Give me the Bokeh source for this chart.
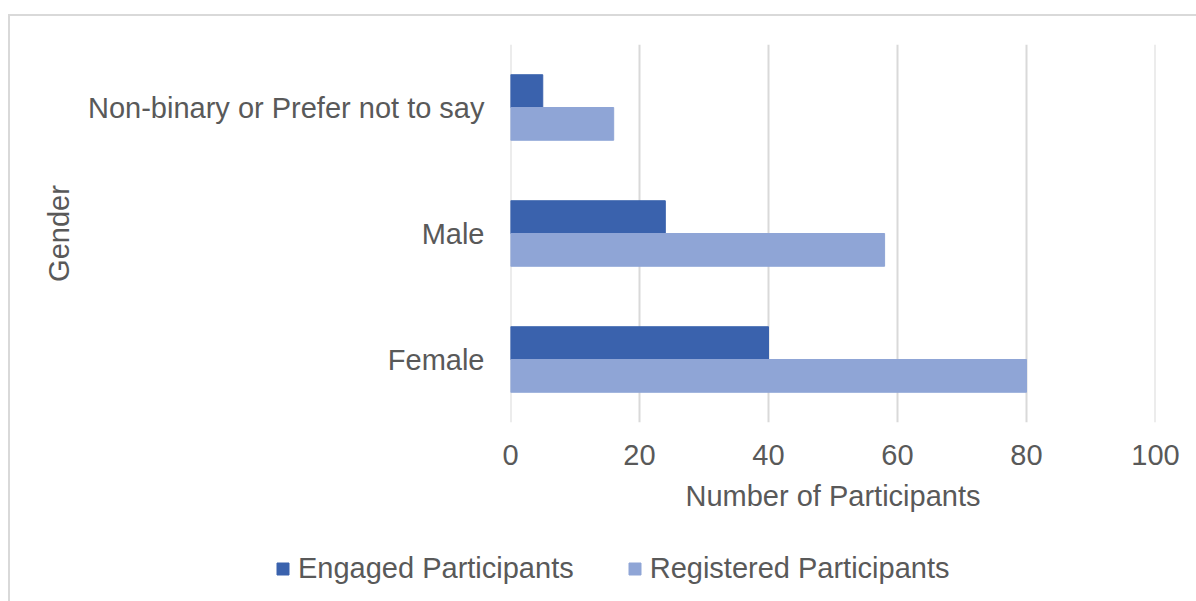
from bokeh.plotting import figure
from bokeh.models import ColumnDataSource, FactorRange, Legend, LegendItem, Span
from bokeh.transform import dodge
from bokeh.embed import file_html
from bokeh.resources import INLINE

categories = ["Female", "Male", "Non-binary or Prefer not to say"]
engaged = [40, 24, 5]
registered = [80, 58, 16]
x_ticks = [0, 20, 40, 60, 80, 100]
series_names = ["Engaged Participants", "Registered Participants"]

FONT = "Liberation Sans"
TXT = "#595959"
C_ENG = "#3A62AD"
C_REG = "#8FA5D6"
GRID = "#D9D9D9"
FS = "29px"
NAN = float("nan")

src = ColumnDataSource(dict(cat=categories, eng=engaged, reg=registered))

p = figure(width=1188, height=516, y_range=FactorRange(factors=categories),
           x_range=(x_ticks[0], x_ticks[-1]), output_backend="svg", toolbar_location=None,
           min_border_left=500, min_border_right=43, min_border_top=28,
           min_border_bottom=110)
p.margin = (14, 0, 0, 8)
p.styles = {"border-left": f"2px solid {GRID}", "border-top": f"2px solid {GRID}",
            "box-sizing": "border-box"}
p.outline_line_color = None
p.background_fill_color = "white"
p.border_fill_color = "white"

for t in (x_ticks[0], x_ticks[-1]):
    p.add_layout(Span(location=t, dimension="height", line_color=GRID, line_width=2,
                      level="underlay"))

p.hbar(y=dodge("cat", 0.13, range=p.y_range), right="eng", left=0, height=0.26,
       source=src, color=C_ENG)
p.hbar(y=dodge("cat", -0.13, range=p.y_range), right="reg", left=0, height=0.26,
       source=src, color=C_REG)

p.xaxis.ticker = x_ticks
p.xaxis.axis_line_color = None
p.xaxis.major_tick_line_color = None
p.xaxis.minor_tick_line_color = None
p.xaxis.major_label_standoff = 16
p.xaxis.major_label_text_font = FONT
p.xaxis.major_label_text_font_size = FS
p.xaxis.major_label_text_color = TXT
p.xaxis.axis_label = "Number of Participants"
p.xaxis.axis_label_text_font = FONT
p.xaxis.axis_label_text_font_size = FS
p.xaxis.axis_label_text_font_style = "normal"
p.xaxis.axis_label_text_color = TXT
p.xaxis.axis_label_standoff = 12

p.yaxis.axis_line_color = None
p.yaxis.major_tick_line_color = None
p.yaxis.major_tick_out = 0
p.yaxis.major_label_standoff = 26
p.yaxis.major_label_text_font = FONT
p.yaxis.major_label_text_font_size = FS
p.yaxis.major_label_text_color = TXT
p.yaxis.axis_label = "Gender"
p.yaxis.axis_label_text_font = FONT
p.yaxis.axis_label_text_font_size = FS
p.yaxis.axis_label_text_font_style = "normal"
p.yaxis.axis_label_text_color = TXT
p.yaxis.axis_label_standoff = 10

p.xgrid.grid_line_color = GRID
p.xgrid.grid_line_width = 2
p.xgrid.ticker = x_ticks
p.ygrid.grid_line_color = None

# legend strip below the chart (separate root, so its frame is not aligned)
p2 = figure(width=1188, height=80, x_range=(0, 1), y_range=(0, 1),
            output_backend="svg", toolbar_location=None,
            min_border_left=0, min_border_right=0, min_border_top=0, min_border_bottom=0)
p2.margin = (0, 0, 0, 8)
p2.styles = {"border-left": f"2px solid {GRID}", "box-sizing": "border-box"}
p2.axis.visible = False
p2.grid.visible = False
p2.outline_line_color = None
p2.border_fill_color = "white"
l1 = p2.hbar(y=[NAN], right=[NAN], height=0.26, color=C_ENG)
l2 = p2.hbar(y=[NAN], right=[NAN], height=0.26, color=C_REG)

legend = Legend(items=[LegendItem(label=series_names[0], renderers=[l1]),
                       LegendItem(label=series_names[1], renderers=[l2])],
                orientation="horizontal", location=(265, 25),
                label_text_font=FONT, label_text_font_size=FS,
                label_text_color=TXT, glyph_width=15, glyph_height=15,
                label_standoff=8, spacing=53, padding=0, margin=0,
                border_line_color=None, background_fill_alpha=0)
p2.add_layout(legend, "center")

open("out.html", "w").write(file_html([p, p2], INLINE))
